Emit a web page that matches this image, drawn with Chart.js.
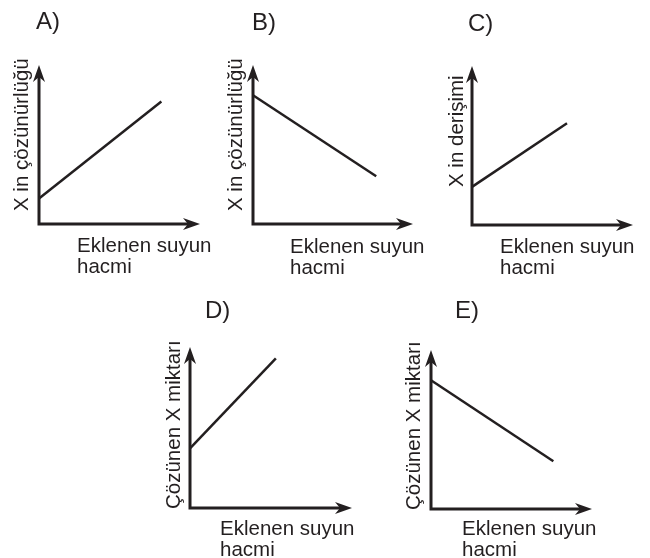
<!DOCTYPE html>
<html lang="tr">
<head>
<meta charset="utf-8">
<title>Eklenen suyun hacmi grafikleri</title>
<script src="https://cdn.jsdelivr.net/npm/chart.js@4.4.1/dist/chart.umd.min.js"></script>
<style>
    html, body {
        margin: 0;
        padding: 0;
        background: #fff;
    }
    #wrap {
        position: relative;
        width: 650px;
        height: 558px;
        overflow: hidden;
    }
    #wrap canvas {
        position: absolute;
    }
</style>
</head>
<body>
<div id="wrap"></div>
<script>
// chart values
const panelTitles = ['A)', 'B)', 'C)', 'D)', 'E)'];
const yLabels = ['X in çözünürlüğü', 'X in çözünürlüğü', 'X in derişimi', 'Çözünen X miktarı', 'Çözünen X miktarı'];
const xLabelLines = ['Eklenen suyun', 'hacmi'];
const axisMax = 10;
const lineX = [[0, 7.6], [0, 7.7], [0, 5.9], [0, 5.3], [0, 7.6]];
const lineY = [[1.6, 7.7], [8.1, 3.0], [2.4, 6.4], [3.7, 9.3], [8.1, 3.0]];

// layout, page pixels
const boxes = [
    { left: 0, top: 0, w: 220, h: 280 },
    { left: 220, top: 0, w: 210, h: 280 },
    { left: 430, top: 0, w: 220, h: 280 },
    { left: 150, top: 280, w: 230, h: 278 },
    { left: 390, top: 280, w: 250, h: 278 }
];
// origin x, origin y, x arrow tip, y arrow tip
const areas = [
    { x0: 39, y0: 224, x1: 200, y1: 65 },
    { x0: 253, y0: 224, x1: 413, y1: 65 },
    { x0: 472, y0: 225, x1: 633, y1: 66 },
    { x0: 190, y0: 508, x1: 352, y1: 347 },
    { x0: 431, y0: 509, x1: 592, y1: 350 }
];
const textPos = [
    { tx: 36, ty: 29, yx: 28, yy: 211, lx: 77, ly: 252 },
    { tx: 252, ty: 30, yx: 242, yy: 211, lx: 290, ly: 253 },
    { tx: 468, ty: 31, yx: 463, yy: 187, lx: 500, ly: 253 },
    { tx: 205, ty: 318, yx: 180, yy: 509, lx: 220, ly: 535 },
    { tx: 455, ty: 318, yx: 420, yy: 510, lx: 462, ly: 535 }
];

const ink = '#231f20';
const fontFamily = '"Liberation Sans", Arial, Helvetica, sans-serif';

function arrowHead(ctx, tx, ty, dir) {
    // dir: 'up' or 'right'
    const len = 17, half = 6, notch = 12;
    ctx.beginPath();
    if (dir === 'up') {
        ctx.moveTo(tx, ty);
        ctx.lineTo(tx + half, ty + len);
        ctx.lineTo(tx, ty + notch);
        ctx.lineTo(tx - half, ty + len);
    } else {
        ctx.moveTo(tx, ty);
        ctx.lineTo(tx - len, ty - half);
        ctx.lineTo(tx - notch, ty);
        ctx.lineTo(tx - len, ty + half);
    }
    ctx.closePath();
    ctx.fill();
}

const axesPlugin = {
    id: 'axesArrows',
    beforeDatasetsDraw(chart) {
        const { ctx, chartArea } = chart;
        const { left, right, top, bottom } = chartArea;
        ctx.save();
        ctx.strokeStyle = ink;
        ctx.fillStyle = ink;
        ctx.lineWidth = 3;
        ctx.lineJoin = 'miter';
        ctx.beginPath();
        ctx.moveTo(left, top + 12);
        ctx.lineTo(left, bottom);
        ctx.lineTo(right - 12, bottom);
        ctx.stroke();
        arrowHead(ctx, left, top, 'up');
        arrowHead(ctx, right, bottom, 'right');
        ctx.restore();
    }
};

const labelsPlugin = {
    id: 'panelLabels',
    afterDraw(chart, args, opts) {
        const ctx = chart.ctx;
        ctx.save();
        ctx.fillStyle = ink;
        ctx.textAlign = 'left';
        ctx.textBaseline = 'alphabetic';

        ctx.font = '24px ' + fontFamily;
        ctx.fillText(opts.title, opts.tx, opts.ty);

        ctx.font = '20.5px ' + fontFamily;
        opts.xLines.forEach((line, i) => {
            ctx.fillText(line, opts.lx, opts.ly + i * 21);
        });

        ctx.translate(opts.yx, opts.yy);
        ctx.rotate(-Math.PI / 2);
        ctx.fillText(opts.yLabel, 0, 0);
        ctx.restore();
    }
};

function makePanel(i) {
    const box = boxes[i];
    const area = areas[i];
    const pos = textPos[i];

    const canvas = document.createElement('canvas');
    canvas.style.left = box.left + 'px';
    canvas.style.top = box.top + 'px';
    canvas.style.width = box.w + 'px';
    canvas.style.height = box.h + 'px';
    canvas.width = box.w;
    canvas.height = box.h;
    document.getElementById('wrap').appendChild(canvas);

    const points = lineX[i].map((x, k) => ({ x: x, y: lineY[i][k] }));

    return new Chart(canvas.getContext('2d'), {
        type: 'line',
        data: {
            datasets: [{
                data: points,
                borderColor: ink,
                borderWidth: 2.5,
                pointRadius: 0,
                fill: false,
                tension: 0,
                clip: false
            }]
        },
        options: {
            responsive: false,
            animation: false,
            events: [],
            layout: {
                padding: {
                    left: area.x0 - box.left,
                    top: area.y1 - box.top,
                    right: box.left + box.w - area.x1,
                    bottom: box.top + box.h - area.y0
                }
            },
            scales: {
                x: { type: 'linear', min: 0, max: axisMax, display: false },
                y: { type: 'linear', min: 0, max: axisMax, display: false }
            },
            plugins: {
                legend: { display: false },
                tooltip: { enabled: false },
                panelLabels: {
                    title: panelTitles[i],
                    yLabel: yLabels[i],
                    xLines: xLabelLines,
                    tx: pos.tx - box.left,
                    ty: pos.ty - box.top,
                    yx: pos.yx - box.left,
                    yy: pos.yy - box.top,
                    lx: pos.lx - box.left,
                    ly: pos.ly - box.top
                }
            }
        },
        plugins: [axesPlugin, labelsPlugin]
    });
}

document.addEventListener('DOMContentLoaded', () => {
    for (let i = 0; i < panelTitles.length; i++) {
        makePanel(i);
    }
});
</script>
</body>
</html>
